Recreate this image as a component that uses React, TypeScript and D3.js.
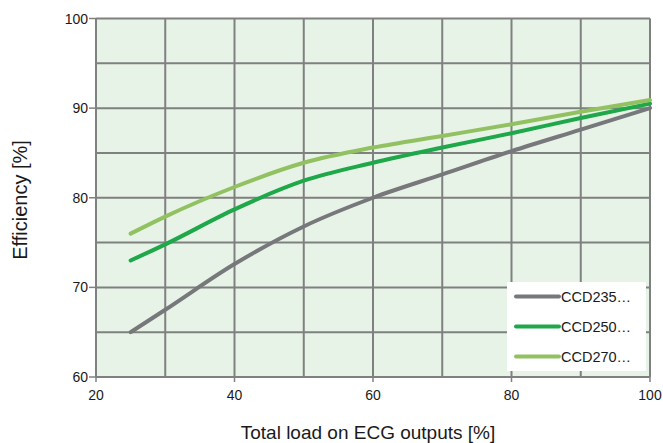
import React from "react";
import * as d3 from "d3";

const loads = [25, 30, 40, 50, 60, 70, 80, 90, 100];
const ccd235 = [65, 67.5, 72.6, 76.8, 80.0, 82.6, 85.2, 87.6, 90.0];
const ccd250 = [73, 74.8, 78.7, 81.9, 83.9, 85.6, 87.2, 88.9, 90.5];
const ccd270 = [76, 77.9, 81.2, 83.9, 85.6, 86.9, 88.2, 89.6, 90.9];
const seriesNames = ["CCD235…", "CCD250…", "CCD270…"];
const seriesColors = ["#77787b", "#1fa84a", "#92c162"];
const xTicks = [20, 40, 60, 80, 100];
const xGrid = [20, 30, 40, 50, 60, 70, 80, 90, 100];
const yTicks = [60, 70, 80, 90, 100];
const yGrid = [60, 65, 70, 75, 80, 85, 90, 95, 100];

export default function App() {
  const W = 663, H = 443;
  const left = 96, right = 650, top = 18.5, bottom = 377;
  const x = d3.scaleLinear().domain([20, 100]).range([left, right]);
  const y = d3.scaleLinear().domain([60, 100]).range([bottom, top]);
  const line = d3
    .line<[number, number]>()
    .x((d) => x(d[0]))
    .y((d) => y(d[1]))
    .curve(d3.curveMonotoneX);
  const series = [ccd235, ccd250, ccd270];
  const font = "Liberation Sans, Arial, sans-serif";
  const grid = "#7f8080";
  const lgX = 507, lgY = 282, lgW = 139, lgH = 89;
  return (
    <svg width={W} height={H} style={{ position: "absolute", left: 0, top: 0 }} fontFamily={font}>
      <rect x={left} y={top} width={right - left} height={bottom - top} fill="#e8f3e7" />
      {xGrid.map((v) => (
        <line key={"xg" + v} x1={x(v)} x2={x(v)} y1={top} y2={bottom} stroke={grid} strokeWidth={2} />
      ))}
      {yGrid.map((v) => (
        <line key={"yg" + v} x1={left} x2={right} y1={y(v)} y2={y(v)} stroke={grid} strokeWidth={2} />
      ))}
      {xTicks.map((v) => (
        <g key={"xt" + v}>
          <line x1={x(v)} x2={x(v)} y1={bottom} y2={bottom + 5} stroke={grid} strokeWidth={1.5} />
          <text x={x(v)} y={bottom + 23} textAnchor="middle" fontSize={14} fill="#1a1a1a">
            {v}
          </text>
        </g>
      ))}
      {yTicks.map((v) => (
        <g key={"yt" + v}>
          <line x1={left - 7} x2={left} y1={y(v)} y2={y(v)} stroke={grid} strokeWidth={1.5} />
          <text x={left - 8} y={y(v) + 5} textAnchor="end" fontSize={14} fill="#1a1a1a">
            {v}
          </text>
        </g>
      ))}
      {series.map((s, i) => (
        <path
          key={"s" + i}
          d={line(loads.map((l, j) => [l, s[j]] as [number, number])) || ""}
          fill="none"
          stroke={seriesColors[i]}
          strokeWidth={4}
          strokeLinecap="round"
        />
      ))}
      <rect x={lgX} y={lgY} width={lgW} height={lgH} fill="#ffffff" />
      {seriesNames.map((n, i) => (
        <g key={"lg" + i}>
          <line x1={516} x2={559} y1={296.5 + i * 30} y2={296.5 + i * 30} stroke={seriesColors[i]} strokeWidth={4} strokeLinecap="round" />
          <text x={561} y={302 + i * 30} fontSize={14.5} fill="#1a1a1a">
            {n}
          </text>
        </g>
      ))}
      <text x={368} y={439} textAnchor="middle" fontSize={19} fill="#1a1a1a">
        Total load on ECG outputs [%]
      </text>
      <text
        transform={`translate(27, 200) rotate(-90)`}
        textAnchor="middle"
        fontSize={20}
        fill="#1a1a1a"
      >
        Efficiency [%]
      </text>
    </svg>
  );
}
